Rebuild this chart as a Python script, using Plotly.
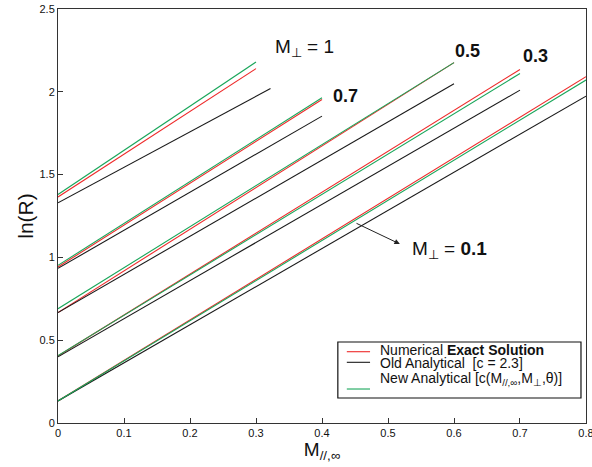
import plotly.graph_objects as go

# ---- data ----
m_perp_labels = ["1", "0.7", "0.5", "0.3", "0.1"]

# Numerical exact solution (red)
exact_x = [[0, 0.3], [0, 0.4], [0, 0.6], [0, 0.7], [0, 0.8]]
exact_y = [[1.365, 2.14], [0.942, 1.954], [0.667, 2.176], [0.405, 2.135], [0.133, 2.091]]

# Old analytical c = 2.3 (black)
old_x = [[0, 0.322], [0, 0.4], [0, 0.6], [0, 0.7], [0, 0.8]]
old_y = [[1.33, 2.02], [0.934, 1.853], [0.667, 2.049], [0.40, 2.01], [0.133, 1.974]]

# New analytical (green)
new_x = [[0, 0.3], [0, 0.4], [0, 0.6], [0, 0.7], [0, 0.8]]
new_y = [[1.38, 2.18], [0.952, 1.964], [0.69, 2.176], [0.407, 2.111], [0.133, 2.071]]

x_ticks = [0, 0.1, 0.2, 0.3, 0.4, 0.5, 0.6, 0.7, 0.8]
x_tick_text = ["0", "0.1", "0.2", "0.3", "0.4", "0.5", "0.6", "0.7", "0.8"]
y_ticks = [0, 0.5, 1, 1.5, 2, 2.5]
y_tick_text = ["0", "0.5", "1", "1.5", "2", "2.5"]

legend_names = [
    "Numerical <b>Exact Solution</b>",
    "Old Analytical  [c = 2.3]",
    "New Analytical [c(M<sub>//,∞</sub>,M<sub>⊥</sub>,θ)]",
]

RED = "#ee2a2a"
BLACK = "#1a1a1a"
GREEN = "#19a65a"
FONT = "Liberation Sans, Arial, Helvetica, sans-serif"

fig = go.Figure()

series = [
    (legend_names[0], exact_x, exact_y, RED),
    (legend_names[1], old_x, old_y, BLACK),
    (legend_names[2], new_x, new_y, GREEN),
]
for name, xs, ys, col in series:
    for i, (xx, yy) in enumerate(zip(xs, ys)):
        fig.add_trace(go.Scatter(
            x=xx, y=yy, mode="lines", name=name,
            line=dict(color=col, width=1.1),
            showlegend=False, hoverinfo="skip",
        ))

annots = [
    dict(x=0.326, y=2.262, text="M<sub>⊥</sub> = 1", size=19),
    dict(x=0.413, y=1.975, text="<b>0.7</b>", size=18),
    dict(x=0.598, y=2.246, text="<b>0.5</b>", size=18),
    dict(x=0.702, y=2.218, text="<b>0.3</b>", size=18),
    dict(x=0.533, y=1.045, text="M<sub>⊥</sub> = <b>0.1</b>", size=19),
]
for a in annots:
    fig.add_annotation(x=a["x"], y=a["y"], text=a["text"], showarrow=False,
                       xanchor="left", yanchor="middle",
                       font=dict(family=FONT, size=a["size"], color="#111"))

# arrow pointing toward the M_perp = 0.1 label
fig.add_annotation(x=0.518, y=1.081, ax=0.45, ay=1.21, axref="x", ayref="y",
                   xref="x", yref="y", text="", showarrow=True,
                   arrowhead=2, arrowsize=1.1, arrowwidth=1, arrowcolor="#222")

# ---- hand-built legend box (paper coordinates) ----
fig.add_shape(type="rect", xref="paper", yref="paper",
              x0=0.530, x1=0.9905, y0=0.0604, y1=0.1957,
              line=dict(color="#111", width=1.2), fillcolor="white", layer="above")
leg_line_y = [0.1722, 0.1466, 0.0821]
leg_text_y = [0.1760, 0.1445, 0.1072]
leg_cols = [RED, BLACK, GREEN]
for ly, ty, col, name in zip(leg_line_y, leg_text_y, leg_cols, legend_names):
    fig.add_shape(type="line", xref="paper", yref="paper",
                  x0=0.547, x1=0.591, y0=ly, y1=ly,
                  line=dict(color=col, width=1.1), layer="above")
    fig.add_annotation(xref="paper", yref="paper", x=0.608, y=ty, text=name,
                       showarrow=False, xanchor="left", yanchor="middle",
                       borderpad=0,
                       font=dict(family=FONT, size=14, color="#111"))

fig.update_layout(
    width=592, height=467, autosize=False,
    margin=dict(l=58, r=6, t=9, b=44),
    paper_bgcolor="white", plot_bgcolor="white",
    font=dict(family=FONT, color="#111"),
    showlegend=False,
    xaxis=dict(range=[0, 0.80001], tickvals=x_ticks, ticktext=x_tick_text,
               ticks="inside", ticklen=5, tickcolor="#333",
               ticklabeloverflow="allow", automargin=False,
               showline=True, linecolor="#333", linewidth=1, mirror=True,
               showgrid=False, zeroline=False,
               tickfont=dict(family=FONT, size=11, color="#111"),
               title=dict(text="M<sub>//,∞</sub>", font=dict(family=FONT, size=19, color="#111"),
                          standoff=4)),
    yaxis=dict(range=[0, 2.5], tickvals=y_ticks, ticktext=y_tick_text,
               ticks="inside", ticklen=5, tickcolor="#333",
               automargin=False,
               showline=True, linecolor="#333", linewidth=1, mirror=True,
               showgrid=False, zeroline=False,
               tickfont=dict(family=FONT, size=11, color="#111"),
               title=dict(text="ln(R)", font=dict(family=FONT, size=21, color="#111"),
                          standoff=0)),
)

fig.write_html("out.html")
